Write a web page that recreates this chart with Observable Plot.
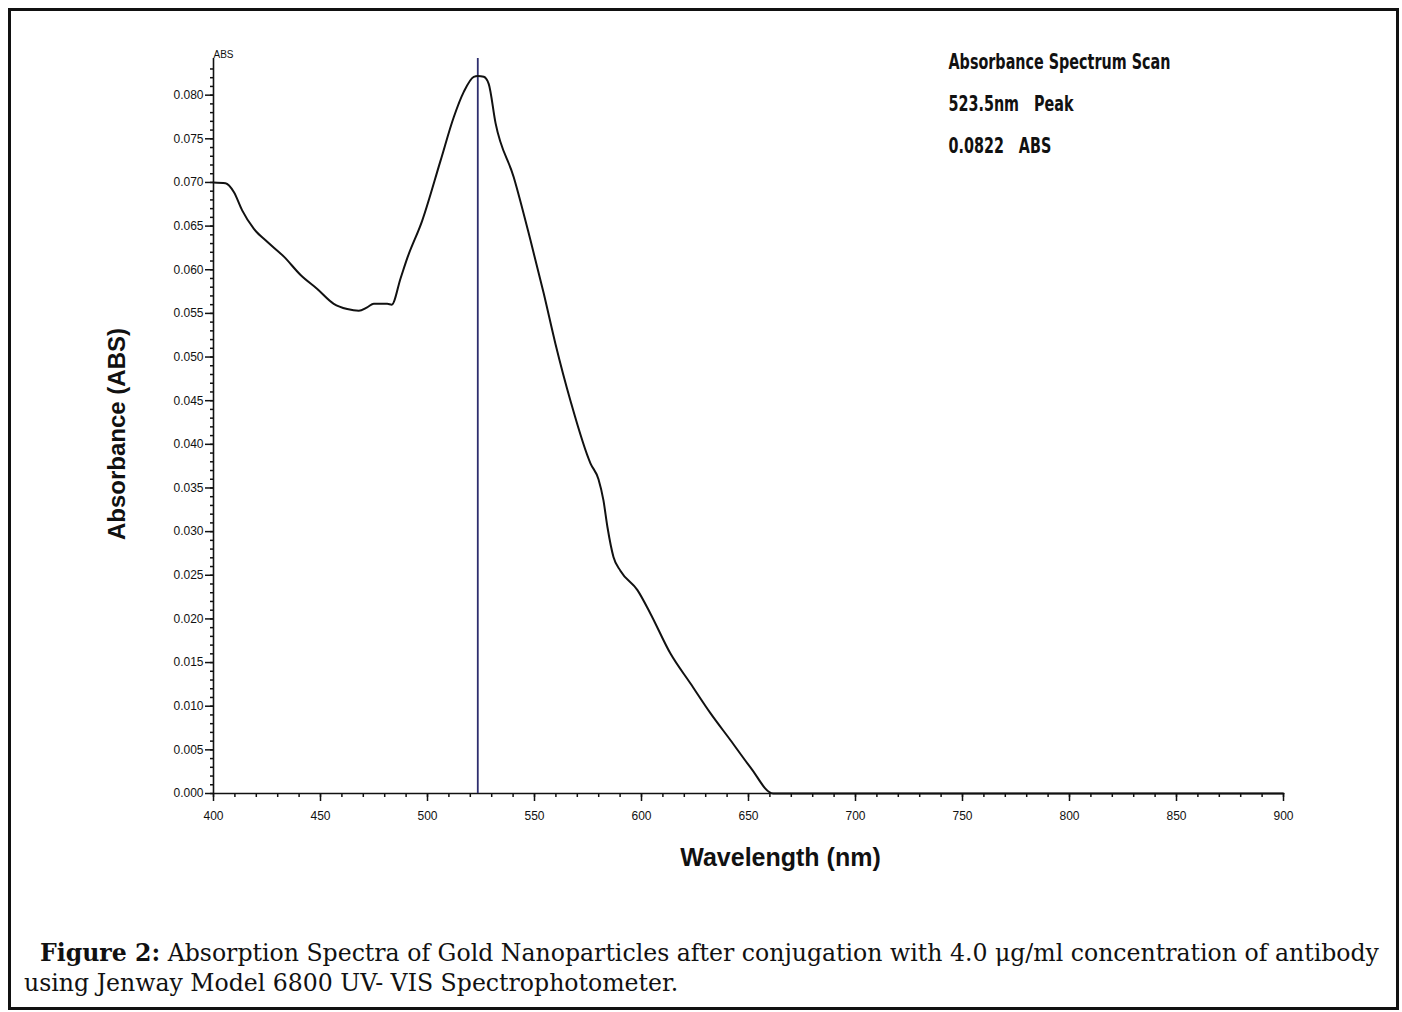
<!DOCTYPE html>
<html><head><meta charset="utf-8">
<script src="https://cdn.jsdelivr.net/npm/d3@7"></script>
<script src="https://cdn.jsdelivr.net/npm/@observablehq/plot@0.6"></script>
<style>
body{margin:0;background:#fff;width:1402px;height:1012px;position:relative;overflow:hidden}
#frame{position:absolute;left:8px;top:8px;width:1391px;height:1002px;box-sizing:border-box;border:3px solid #111}
#chart{position:absolute;left:0;top:0}
#chart svg text{white-space:pre}
#caption{position:absolute;left:24px;top:938px;font-family:"DejaVu Serif","Liberation Serif",serif;font-size:23.6px;line-height:30px;color:#111;white-space:nowrap}
#caption .l1{padding-left:16px}
</style></head><body>
<div id="frame"></div>
<div id="chart"></div>
<div id="caption"><div class="l1"><b id="capBold"></b><span id="capRest"></span></div><div id="capLine2"></div></div>
<script>
const wavelength = [400, 405.6, 409.5, 413.4, 418.8, 425.1, 432.9, 440.7, 448.5, 456.2, 462.5, 467.9, 471.8, 474.9, 481.2, 483.3, 487.4, 490.5, 497.5, 506.1, 512.3, 517.0, 521.6, 523.5, 526.3, 528.6, 531.8, 540.3, 548.1, 554.3, 559.8, 566.8, 576.2, 579.9, 582.2, 584.1, 586.9, 590.2, 598.1, 604.2, 613.6, 622.9, 632.2, 641.6, 650.9, 661.5, 700, 750, 800, 850, 900];
const absorbance = [0.0700, 0.0699, 0.0689, 0.0668, 0.0647, 0.0632, 0.0615, 0.0594, 0.0578, 0.0561, 0.0555, 0.0553, 0.0557, 0.0561, 0.0561, 0.0560, 0.0590, 0.0613, 0.0656, 0.0725, 0.0775, 0.0804, 0.0821, 0.0822, 0.0821, 0.0813, 0.0768, 0.0706, 0.0634, 0.0573, 0.0515, 0.0450, 0.0378, 0.0360, 0.0336, 0.0305, 0.0271, 0.0255, 0.0233, 0.0206, 0.0160, 0.0126, 0.0092, 0.0061, 0.0030, 0.0000, 0, 0, 0, 0, 0];
const xTicks = [400, 450, 500, 550, 600, 650, 700, 750, 800, 850, 900];
const xMinorTicks = d3.range(400, 901, 10);
const yTicks = [0, 0.005, 0.010, 0.015, 0.020, 0.025, 0.030, 0.035, 0.040, 0.045, 0.050, 0.055, 0.060, 0.065, 0.070, 0.075, 0.080];
const yMinorTicks = d3.range(0, 84).map(i => i / 1000);
const peakWavelength = 523.5;
const yTop = 0.0842;
const annotationLines = ["Absorbance Spectrum Scan", "523.5nm   Peak", "0.0822   ABS"];
const xLabel = "Wavelength (nm)";
const yLabel = "Absorbance (ABS)";
const yUnit = "ABS";
const captionBold = "Figure 2:";
const captionRest = " Absorption Spectra of Gold Nanoparticles after conjugation with 4.0 μg/ml concentration of antibody";
const captionLine2 = "using Jenway Model 6800 UV- VIS Spectrophotometer.";

const data = wavelength.map((w, i) => ({w, a: absorbance[i]}));

const plot = Plot.plot({
  width: 1402, height: 880,
  marginLeft: 213, marginRight: 119, marginTop: 58, marginBottom: 87,
  x: {domain: [400, 900], label: null},
  y: {domain: [0, yTop], label: null},
  style: {fontFamily: "'Liberation Sans', Arial, sans-serif", fontSize: "12px", color: "#111", background: "transparent", overflow: "visible"},
  marks: [
    Plot.axisX({ticks: xMinorTicks, tickSize: 4, tickFormat: () => "", strokeWidth: 1.5, label: null}),
    Plot.axisX({ticks: xTicks, tickSize: 8, tickPadding: 10, tickFormat: d => String(d), strokeWidth: 1.5, label: null}),
    Plot.axisY({ticks: yMinorTicks, tickSize: 3, tickFormat: () => "", strokeWidth: 1.5, label: null}),
    Plot.axisY({ticks: yTicks, tickSize: 8, tickPadding: 2, tickFormat: d3.format(".3f"), strokeWidth: 1.5, label: null}),
    Plot.ruleX([400], {y1: 0, y2: yTop, strokeWidth: 1.6, stroke: "#111"}),
    Plot.ruleY([0], {x1: 400, x2: 900, strokeWidth: 1.6, stroke: "#111"}),
    Plot.ruleX([peakWavelength], {y1: 0, y2: yTop, stroke: "#2e2e6e", strokeWidth: 1.8}),
    Plot.line(data, {x: "w", y: "a", curve: "monotone-x", stroke: "#111", strokeWidth: 2}),
    Plot.text([yUnit], {frameAnchor: "top-left", textAnchor: "start", lineAnchor: "bottom", dy: -1, fontSize: 10, fill: "#111"}),
    Plot.text([annotationLines.join("\n")], {frameAnchor: "top-left", textAnchor: "start", lineAnchor: "top", dx: 735, dy: -19, lineHeight: 1.91, fontSize: 22, fontWeight: "bold", fontFamily: "'DejaVu Sans Condensed', sans-serif", fill: "#111"}),
    Plot.text([yLabel], {frameAnchor: "left", rotate: -90, dx: -96, dy: 8, textAnchor: "middle", lineAnchor: "middle", fontSize: 24, fontWeight: "bold", fill: "#111"}),
    Plot.text([xLabel], {frameAnchor: "bottom", dx: 32, dy: 64, textAnchor: "middle", lineAnchor: "middle", fontSize: 25, fontWeight: "bold", fill: "#111"})
  ]
});
document.getElementById("chart").append(plot);
// condense the annotation glyphs horizontally (the original uses a narrow display face)
d3.select(plot).selectAll("tspan").each(function() {
  const t = this.textContent;
  if (annotationLines.includes(t)) {
    const len = this.getComputedTextLength();
    this.setAttribute("textLength", len * 0.725);
    this.setAttribute("lengthAdjust", "spacingAndGlyphs");
  }
});
document.getElementById("capBold").textContent = captionBold;
document.getElementById("capRest").textContent = captionRest;
document.getElementById("capLine2").textContent = captionLine2;
</script>
</body></html>
